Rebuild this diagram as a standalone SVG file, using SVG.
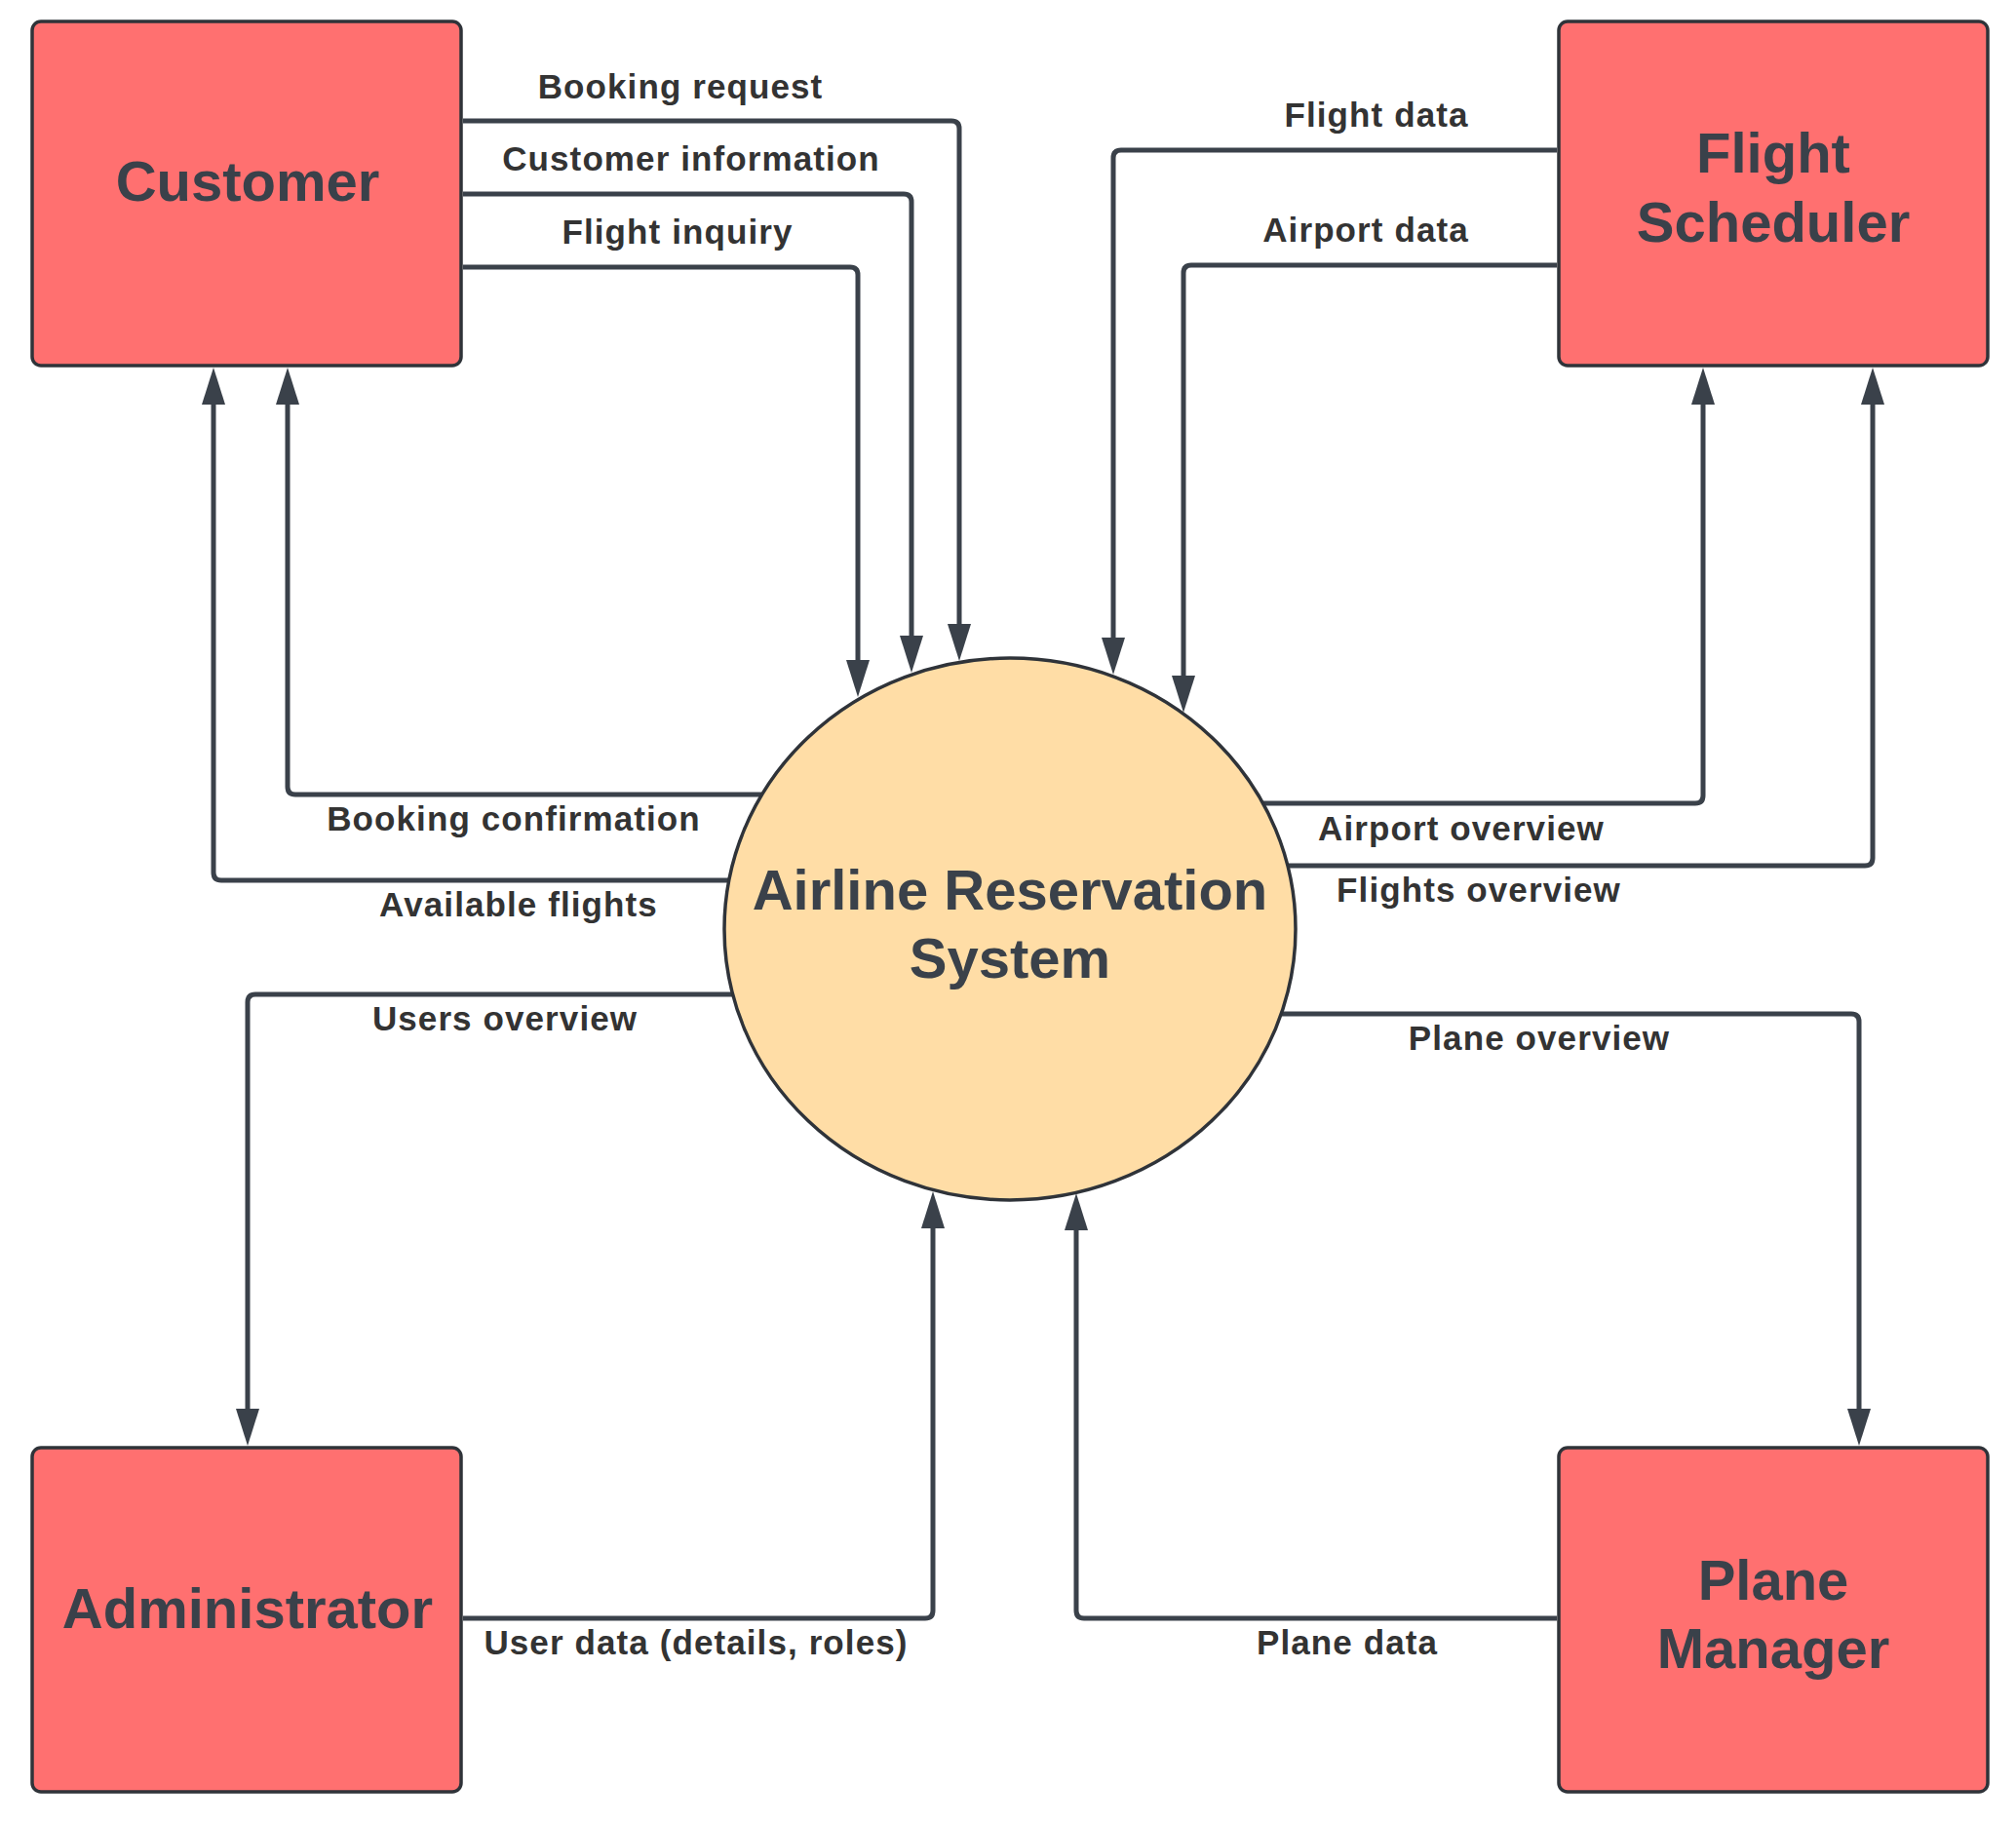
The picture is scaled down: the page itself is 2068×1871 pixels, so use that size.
<svg xmlns="http://www.w3.org/2000/svg" width="2068" height="1871" viewBox="0 0 2068 1871">
<style>
.box{fill:#FF7070;stroke:#2f3339;stroke-width:3.5}
.proc{fill:#FFDDA6;stroke:#2f3339;stroke-width:3.5}
.title{font-family:"Liberation Sans",Arial,sans-serif;font-weight:bold;font-size:58px;fill:#3a414a;text-anchor:middle}
.lbl{font-family:"Liberation Sans",Arial,sans-serif;font-weight:bold;font-size:35px;letter-spacing:1.1px;fill:#333333;text-anchor:middle}
.c{fill:none;stroke:#3a414a;stroke-width:5;marker-end:url(#ah)}
</style>
<defs>
<marker id="ah" markerUnits="userSpaceOnUse" markerWidth="38" markerHeight="24" refX="20" refY="12" orient="auto" viewBox="0 0 38 24">
<path d="M0,0 L38,12 L0,24 Z" fill="#3a414a"/>
</marker>
</defs>
<rect width="2068" height="1871" fill="#ffffff"/>
<g id="connectors">
<path class="c" d="M475,124 H976 Q984,124 984,132 V660"/>
<path class="c" d="M475,199 H927 Q935,199 935,207 V672"/>
<path class="c" d="M475,274 H872 Q880,274 880,282 V697"/>
<path class="c" d="M781,815 H303 Q295,815 295,807 V395"/>
<path class="c" d="M748,903 H227 Q219,903 219,895 V395"/>
<path class="c" d="M752,1020 H262 Q254,1020 254,1028 V1465"/>
<path class="c" d="M475,1660 H949 Q957,1660 957,1652 V1240"/>
<path class="c" d="M1597,1660 H1112 Q1104,1660 1104,1652 V1242"/>
<path class="c" d="M1314,1040 H1899 Q1907,1040 1907,1048 V1465"/>
<path class="c" d="M1321,888 H1913 Q1921,888 1921,880 V395"/>
<path class="c" d="M1296,824 H1739 Q1747,824 1747,816 V395"/>
<path class="c" d="M1597,154 H1150 Q1142,154 1142,162 V674"/>
<path class="c" d="M1597,272 H1222 Q1214,272 1214,280 V713"/>
<text class="lbl" x="698" y="101">Booking request</text>
<text class="lbl" x="709" y="175">Customer information</text>
<text class="lbl" x="695" y="250">Flight inquiry</text>
<text class="lbl" x="1412" y="130">Flight data</text>
<text class="lbl" x="1401" y="248">Airport data</text>
<text class="lbl" x="527" y="852">Booking confirmation</text>
<text class="lbl" x="532" y="940">Available flights</text>
<text class="lbl" x="518" y="1057">Users overview</text>
<text class="lbl" x="1499" y="862">Airport overview</text>
<text class="lbl" x="1517" y="925">Flights overview</text>
<text class="lbl" x="1579" y="1077">Plane overview</text>
<text class="lbl" x="714" y="1697">User data (details, roles)</text>
<text class="lbl" x="1382" y="1697">Plane data</text>
</g>
<g id="customer">
<rect class="box" x="33" y="22" width="440" height="353" rx="9"/>
<text class="title" x="254" y="206">Customer</text>
</g>
<g id="flight-scheduler">
<rect class="box" x="1599" y="22" width="440" height="353" rx="9"/>
<text class="title" x="1819" y="177">Flight</text>
<text class="title" x="1819" y="248">Scheduler</text>
</g>
<g id="airline-reservation-system">
<ellipse class="proc" cx="1036" cy="953" rx="293" ry="278"/>
<text class="title" x="1036" y="933">Airline Reservation</text>
<text class="title" x="1036" y="1003">System</text>
</g>
<g id="administrator">
<rect class="box" x="33" y="1485" width="440" height="353" rx="9"/>
<text class="title" x="254" y="1670">Administrator</text>
</g>
<g id="plane-manager">
<rect class="box" x="1599" y="1485" width="440" height="353" rx="9"/>
<text class="title" x="1819" y="1641">Plane</text>
<text class="title" x="1819" y="1711">Manager</text>
</g>
</svg>
